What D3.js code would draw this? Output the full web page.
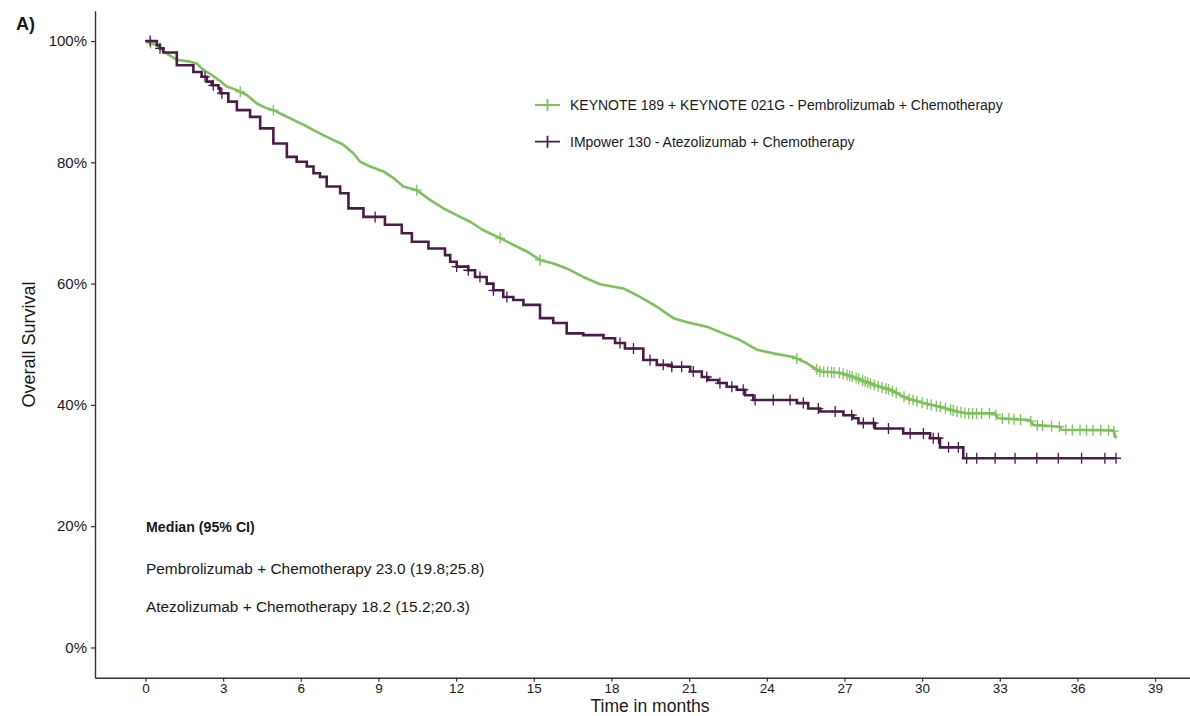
<!DOCTYPE html>
<html>
<head>
<meta charset="utf-8">
<script src="https://cdn.jsdelivr.net/npm/d3@7"></script>
<style>
    body { margin: 0; background: #fff; }
    text { font-family: "Liberation Sans", Arial, sans-serif; }
</style>
</head>
<body>
<div id="chart"></div>
<script>
//keynote 189 + keynote 021G (months / % alive)
var kTime = [0, 0.44, 0.69, 1.21, 1.72, 1.98, 2.17, 2.37, 2.56, 2.82, 3.14, 3.53, 3.91, 4.30, 4.69, 4.94, 5.33, 5.71, 6.10, 6.49, 7.00, 7.39, 7.64, 8.03, 8.29, 8.68, 9.19, 9.58, 9.96, 10.48, 10.99, 11.51, 12.02, 12.54, 13.05, 13.70, 14.21, 14.73, 15.24, 15.76, 16.27, 16.91, 17.56, 18.46, 19.10, 19.75, 20.39, 21.04, 21.68, 22.32, 22.97, 23.61, 24.25, 25.03, 25.54, 26.06, 26.83, 27.47, 28.12, 28.76, 29.41, 30.05, 30.69, 31.34, 31.72, 32.81, 32.94, 34.17, 34.30, 35.33, 35.39, 37.39, 37.49];
var kSurv = [100, 99.3, 98.3, 96.9, 96.6, 96.3, 95.5, 94.9, 94.4, 93.6, 92.5, 91.9, 91.1, 89.7, 88.9, 88.6, 87.8, 87.0, 86.2, 85.3, 84.2, 83.4, 82.9, 81.5, 80.1, 79.3, 78.5, 77.4, 76.0, 75.4, 73.8, 72.4, 71.3, 70.2, 68.8, 67.5, 66.4, 65.3, 63.9, 63.3, 62.5, 61.1, 59.9, 59.2, 57.8, 56.2, 54.3, 53.5, 52.9, 51.8, 50.7, 49.1, 48.5, 47.9, 46.9, 45.5, 45.3, 44.4, 43.3, 42.5, 41.1, 40.3, 39.7, 38.9, 38.6, 38.6, 37.8, 37.5, 36.7, 36.4, 35.9, 35.8, 34.5];
var kCensor = [0.2, 3.66, 4.94, 10.48, 13.70, 15.24, 25.16, 25.93, 26.05, 26.2, 26.35, 26.5, 26.6, 26.8, 26.95, 27.1, 27.2, 27.3, 27.45, 27.55, 27.7, 27.8, 27.9, 28.0, 28.15, 28.3, 28.45, 28.6, 28.7, 28.85, 29.0, 29.3, 29.5, 29.65, 29.8, 30.0, 30.2, 30.35, 30.55, 30.7, 30.9, 31.1, 31.2, 31.35, 31.5, 31.65, 31.8, 31.95, 32.1, 32.3, 32.6, 32.85, 33.1, 33.35, 33.55, 33.8, 34.2, 34.45, 34.65, 35.0, 35.3, 35.55, 35.8, 36.1, 36.35, 36.6, 36.9, 37.2, 37.4];

//impower 130
var iTime = [0, 0.44, 0.56, 0.69, 1.21, 1.85, 2.17, 2.37, 2.56, 2.82, 2.88, 3.20, 3.53, 4.04, 4.43, 4.94, 5.46, 5.84, 6.23, 6.49, 6.74, 7.00, 7.52, 7.84, 8.42, 9.25, 9.90, 10.29, 10.93, 11.57, 11.77, 12.02, 12.47, 12.73, 13.18, 13.44, 13.82, 14.21, 14.60, 15.24, 15.75, 16.27, 16.91, 17.69, 18.14, 18.52, 19.23, 19.75, 20.33, 21.04, 21.49, 21.74, 22.13, 22.45, 22.84, 23.16, 23.48, 25.16, 25.60, 26.06, 26.96, 27.34, 27.54, 28.18, 29.27, 30.31, 30.69, 31.59, 37.49];
var iSurv = [100, 99.3, 98.8, 98.1, 96.0, 94.9, 94.1, 93.3, 92.7, 92.2, 91.4, 90.0, 88.6, 87.5, 85.6, 83.1, 80.9, 80.1, 79.3, 78.2, 77.6, 76.0, 74.9, 72.4, 71.0, 69.7, 68.3, 66.9, 65.8, 64.7, 63.6, 62.8, 62.2, 61.1, 60.0, 58.9, 57.8, 57.3, 56.5, 54.3, 53.5, 51.8, 51.5, 51.0, 50.2, 49.3, 47.4, 46.6, 46.3, 45.5, 44.6, 44.1, 43.6, 43.0, 42.5, 41.6, 40.8, 40.3, 39.4, 38.9, 38.3, 37.8, 37.0, 36.1, 35.3, 34.5, 33.0, 31.2, 31.2];
var iCensor = [0.18, 0.56, 2.30, 2.62, 2.95, 8.87, 12.02, 12.47, 12.92, 13.44, 13.96, 18.33, 18.85, 19.49, 20.0, 20.33, 20.71, 21.16, 21.68, 22.19, 22.65, 23.09, 23.55, 24.25, 24.90, 25.41, 25.99, 26.64, 27.28, 27.73, 28.12, 28.70, 29.54, 30.05, 30.43, 30.63, 31.02, 31.40, 31.72, 32.11, 32.82, 33.59, 34.43, 35.26, 36.16, 37.06, 37.49];

var xTicks = [0, 3, 6, 9, 12, 15, 18, 21, 24, 27, 30, 33, 36, 39];
var yTicks = [0, 20, 40, 60, 80, 100];

var legendLabels = ["KEYNOTE 189 + KEYNOTE 021G - Pembrolizumab + Chemotherapy", "IMpower 130 - Atezolizumab + Chemotherapy"];
var medianLines = ["Pembrolizumab + Chemotherapy 23.0 (19.8;25.8)", "Atezolizumab + Chemotherapy 18.2 (15.2;20.3)"];

var green = "#7cc35b",
    purple = "#4a1c48";

function renderPlot() {

    var width = 1190,
        height = 716;

    var svg = d3.select("#chart")
        .append("svg")
        .attr("width", width)
        .attr("height", height)
        .style("display", "block");

    //scales with the ggplot style 5% padding
    var x = d3.scaleLinear()
        .domain([-1.95, 40.95])
        .range([95, 1205.6]);
    var y = d3.scaleLinear()
        .domain([-5, 105])
        .range([677.8, 10.7]);

    //axes
    var xAxis = svg.append("g")
        .attr("transform", "translate(0,677.8)")
        .call(d3.axisBottom(x).tickValues(xTicks).tickSize(4).tickSizeOuter(0).tickPadding(2));
    var yAxis = svg.append("g")
        .attr("transform", "translate(95,0)")
        .call(d3.axisLeft(y).tickValues(yTicks).tickFormat(d => d + "%").tickSize(4).tickSizeOuter(0).tickPadding(4));

    [xAxis, yAxis].forEach(g => {
        g.select(".domain").attr("stroke", "#333").attr("stroke-width", 1.4);
        g.selectAll(".tick line").attr("stroke", "#333").attr("stroke-width", 1.2);
        g.selectAll(".tick text")
            .attr("fill", "#1a1a1a")
            .style("font-family", "'Liberation Sans', Arial, sans-serif");
    });
    xAxis.selectAll(".tick text").style("font-size", "13.5px");
    yAxis.selectAll(".tick text").style("font-size", "15px");

    //survival curves: green first so purple sits on top
    var lineK = d3.line()
        .x((d, i) => x(kTime[i]))
        .y(d => y(d))
        .curve(d3.curveLinear);
    var lineI = d3.line()
        .x((d, i) => x(iTime[i]))
        .y(d => y(d))
        .curve(d3.curveStepAfter);

    svg.append("path")
        .attr("fill", "none")
        .attr("stroke", green)
        .attr("stroke-width", 2.6)
        .attr("stroke-linejoin", "round")
        .attr("d", lineK(kSurv));

    //censor marks, placed on the drawn lines
    function lineAt(t) {
        var i = d3.bisectRight(kTime, t);
        if (i <= 0) return kSurv[0];
        if (i >= kTime.length) return kSurv[kSurv.length - 1];
        var f = (t - kTime[i - 1]) / (kTime[i] - kTime[i - 1]);
        return kSurv[i - 1] + (kSurv[i] - kSurv[i - 1]) * f;
    }
    function stepAt(t) {
        var i = d3.bisectRight(iTime, t) - 1;
        return iSurv[Math.max(0, i)];
    }
    function plus(px, py) {
        return "M" + (px - 5) + "," + py + "H" + (px + 5) + "M" + px + "," + (py - 5.5) + "V" + (py + 5.5);
    }

    svg.append("g")
        .selectAll("path")
        .data(kCensor)
        .join("path")
        .attr("d", t => plus(x(t), y(lineAt(t))))
        .attr("stroke", green)
        .attr("stroke-width", 1.3)
        .attr("fill", "none");

    svg.append("path")
        .attr("fill", "none")
        .attr("stroke", purple)
        .attr("stroke-width", 2.6)
        .attr("d", lineI(iSurv));

    svg.append("g")
        .selectAll("path")
        .data(iCensor)
        .join("path")
        .attr("d", t => plus(x(t), y(stepAt(t))))
        .attr("stroke", purple)
        .attr("stroke-width", 1.3)
        .attr("fill", "none");

    //legend
    var legend = svg.append("g")
        .selectAll("g")
        .data(legendLabels)
        .join("g")
        .attr("transform", (d, i) => `translate(535,${105 + i * 36.7})`);
    legend.append("path")
        .attr("d", "M0,0H25M12.5,-6V6")
        .attr("stroke", (d, i) => i == 0 ? green : purple)
        .attr("stroke-width", 1.8);
    legend.append("text")
        .attr("x", 35)
        .attr("y", 5)
        .style("font-size", "14px")
        .attr("fill", "#1a1a1a")
        .text(d => d);

    //median annotation
    svg.append("text")
        .attr("x", 146)
        .attr("y", 531.5)
        .style("font-size", "14.2px")
        .style("font-weight", "bold")
        .attr("fill", "#1a1a1a")
        .text("Median (95% CI)");
    svg.append("g")
        .selectAll("text")
        .data(medianLines)
        .join("text")
        .attr("x", 146)
        .attr("y", (d, i) => 573.5 + i * 38.3)
        .style("font-size", "15.4px")
        .attr("fill", "#1a1a1a")
        .text(d => d);

    //axis titles and panel tag
    svg.append("text")
        .attr("transform", "translate(35,344.5) rotate(-90)")
        .attr("text-anchor", "middle")
        .style("font-size", "18px")
        .attr("fill", "#1a1a1a")
        .text("Overall Survival");
    svg.append("text")
        .attr("x", 650)
        .attr("y", 712.2)
        .attr("text-anchor", "middle")
        .style("font-size", "17.5px")
        .attr("fill", "#1a1a1a")
        .text("Time in months");
    svg.append("text")
        .attr("x", 16)
        .attr("y", 30)
        .style("font-size", "18px")
        .style("font-weight", "bold")
        .attr("fill", "#1a1a1a")
        .text("A)");
}

document.addEventListener("DOMContentLoaded", function () {
    renderPlot();
});
</script>
</body>
</html>
